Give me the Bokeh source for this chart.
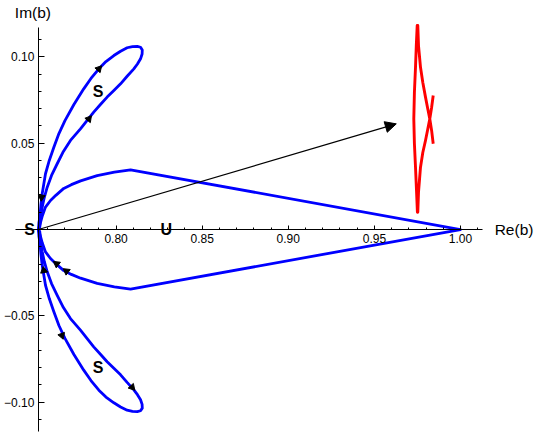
import math
from bokeh.plotting import figure
from bokeh.models import Range1d, FixedTicker, CustomJSTickFormatter, Arrow, NormalHead, ColumnDataSource
from bokeh.core.properties import value
from bokeh.embed import file_html
from bokeh.resources import INLINE

# ---------------- data ----------------
origin_x = 0.7549
origin_y = 0.0

# upper "S" loop (starts and ends at the saddle S)
loop_up_x = [0.7549, 0.7552, 0.7557, 0.7563, 0.7571, 0.7590, 0.7612, 0.7638, 0.7668, 0.7703,
             0.7755, 0.7812, 0.7854, 0.7900, 0.7941, 0.7987, 0.8026, 0.8064, 0.8095, 0.8123,
             0.8142, 0.8152, 0.8151, 0.8142, 0.8124, 0.8103, 0.8064, 0.8026, 0.7987, 0.7948,
             0.7909, 0.7870, 0.7832, 0.7793, 0.7735, 0.7694, 0.7658, 0.7625, 0.7600, 0.7583,
             0.7571, 0.7562, 0.7557, 0.7549]
loop_up_y = [0.0000, 0.0041, 0.0071, 0.0139, 0.0209, 0.0323, 0.0400, 0.0475, 0.0556, 0.0631,
             0.0724, 0.0815, 0.0875, 0.0931, 0.0973, 0.1008, 0.1033, 0.1053, 0.1060, 0.1061,
             0.1056, 0.1040, 0.1017, 0.0989, 0.0959, 0.0931, 0.0888, 0.0844, 0.0805, 0.0767,
             0.0724, 0.0680, 0.0632, 0.0583, 0.0516, 0.0452, 0.0381, 0.0313, 0.0245, 0.0185,
             0.0129, 0.0075, 0.0013, 0.0000]

# lower "S" loop
loop_dn_x = [0.7549, 0.7552, 0.7557, 0.7563, 0.7571, 0.7590, 0.7612, 0.7638, 0.7668, 0.7703,
             0.7755, 0.7812, 0.7854, 0.7900, 0.7941, 0.7987, 0.8026, 0.8064, 0.8095, 0.8123,
             0.8142, 0.8152, 0.8151, 0.8142, 0.8124, 0.8103, 0.8064, 0.8026, 0.7987, 0.7948,
             0.7909, 0.7870, 0.7832, 0.7793, 0.7735, 0.7694, 0.7658, 0.7625, 0.7600, 0.7583,
             0.7571, 0.7562, 0.7557, 0.7549]
loop_dn_y = [0.0000, -0.0041, -0.0071, -0.0139, -0.0209, -0.0323, -0.0400, -0.0475, -0.0556, -0.0631,
             -0.0724, -0.0815, -0.0875, -0.0931, -0.0971, -0.1004, -0.1028, -0.1047, -0.1054, -0.1055,
             -0.1050, -0.1035, -0.1013, -0.0986, -0.0957, -0.0929, -0.0886, -0.0842, -0.0804, -0.0766,
             -0.0723, -0.0680, -0.0632, -0.0583, -0.0516, -0.0452, -0.0381, -0.0313, -0.0245, -0.0185,
             -0.0129, -0.0075, -0.0013, 0.0000]

# closed curve towards b = 1
poly_x = [0.7549, 0.7558, 0.7572, 0.7590, 0.7619, 0.7650, 0.7696, 0.7740, 0.7794, 0.7890, 0.7990, 0.8084,
          1.0000,
          0.8084, 0.7990, 0.7890, 0.7794, 0.7740, 0.7696, 0.7650, 0.7619, 0.7590, 0.7572, 0.7558, 0.7549]
poly_y = [0.0000, 0.0030, 0.0080, 0.0130, 0.0168, 0.0198, 0.0238, 0.0260, 0.0282, 0.0312, 0.0332, 0.0346,
          0.0000,
          -0.0346, -0.0332, -0.0312, -0.0282, -0.0260, -0.0238, -0.0198, -0.0168, -0.0130, -0.0080, -0.0030, 0.0000]

# red curve near Re(b) ~ 0.975
red_x = [0.98415, 0.98322, 0.98217, 0.98095, 0.97967, 0.97811, 0.97677, 0.97561, 0.97520, 0.97497,
         0.97445, 0.97387, 0.97323, 0.97288, 0.97323, 0.97387, 0.97433, 0.97485,
         0.97520, 0.97561, 0.97677, 0.97811, 0.97967, 0.98095, 0.98217, 0.98322, 0.98415]
red_y = [0.0776, 0.0707, 0.0641, 0.0579, 0.0516, 0.0446, 0.0361, 0.0216, 0.0100, 0.0100,
         0.0226, 0.0361, 0.0498, 0.0641, 0.0794, 0.0940, 0.1066, 0.1182,
         0.1182, 0.1066, 0.0940, 0.0852, 0.0767, 0.0701, 0.0641, 0.0574, 0.0497]

# black arrow
arrow_x = [0.7549, 0.9627]
arrow_y = [0.0000, 0.0612]

# small flow arrows on curves (position, direction in degrees)
flow_x = [0.7900, 0.7842, 0.7685, 0.8093, 0.7567, 0.7580, 0.7655, 0.7712]
flow_y = [0.0931, 0.0641, -0.0614, -0.0914, 0.0187, -0.0238, -0.0199, -0.0241]
flow_dir = [48, 51, -70, -48, -95, 100, 143, 143]

# point labels
pt_text = ["S", "U", "S", "S"]
pt_x = [0.7497, 0.8291, 0.7896, 0.7896]
pt_y = [0.0000, 0.0000, 0.0801, -0.0797]

# axes
x_major = [0.80, 0.85, 0.90, 0.95, 1.00]
x_minor = [0.76, 0.77, 0.78, 0.79, 0.80, 0.81, 0.82, 0.83, 0.84, 0.85, 0.86, 0.87, 0.88, 0.89,
           0.90, 0.91, 0.92, 0.93, 0.94, 0.95, 0.96, 0.97, 0.98, 0.99, 1.00, 1.01]
y_major = [-0.10, -0.05, 0.05, 0.10]
y_minor = [-0.11, -0.10, -0.09, -0.08, -0.07, -0.06, -0.05, -0.04, -0.03, -0.02, -0.01,
           0.01, 0.02, 0.03, 0.04, 0.05, 0.06, 0.07, 0.08, 0.09, 0.10, 0.11]
x_axis_label = "Re(b)"
y_axis_label = "Im(b)"

# ---------------- figure ----------------
FONT = "Liberation Sans"
p = figure(width=534, height=433, output_backend="svg", toolbar_location=None,
           x_range=Range1d(0.73287, 1.04297), y_range=Range1d(-0.11819, 0.13268),
           min_border=0, min_border_left=0, min_border_right=0, min_border_top=0, min_border_bottom=0)
p.outline_line_color = None
p.xgrid.visible = False
p.ygrid.visible = False
p.background_fill_color = "white"

fmt = CustomJSTickFormatter(code="return (tick < 0 ? '\u2212' : '') + Math.abs(tick).toFixed(2);")
for ax, maj, mino, loc, bnds in [(p.xaxis, x_major, x_minor, 0.0, (0.7416, 1.0128)),
                                 (p.yaxis, y_major, y_minor, origin_x, (-0.117, 0.117))]:
    ax.fixed_location = loc
    ax.bounds = bnds
    ax.ticker = FixedTicker(ticks=maj, minor_ticks=mino)
    ax.formatter = fmt
    ax.axis_line_color = "black"
    ax.axis_line_width = 1
    ax.major_tick_line_color = "black"
    ax.minor_tick_line_color = "black"
    ax.major_tick_out = 0
    ax.minor_tick_out = 0
    ax.major_label_text_font = FONT
    ax.major_label_text_font_size = "12px"
    ax.major_label_text_color = "black"
    ax.major_label_standoff = 4
p.xaxis.major_tick_in = 4
p.xaxis.minor_tick_in = 2
p.yaxis.major_tick_in = 6
p.yaxis.minor_tick_in = 3

# curves
p.line(poly_x, poly_y, line_color="#0000ff", line_width=2.8, line_join="round")
p.line(loop_up_x, loop_up_y, line_color="#0000ff", line_width=2.8, line_join="round")
p.line(loop_dn_x, loop_dn_y, line_color="#0000ff", line_width=2.8, line_join="round")
p.line(red_x, red_y, line_color="#ff0000", line_width=2.9, line_join="round")

# long arrow
p.add_layout(Arrow(x_start=arrow_x[0], y_start=arrow_y[0], x_end=arrow_x[1], y_end=arrow_y[1],
                   line_color="black", line_width=1.2,
                   end=NormalHead(size=11, fill_color="black", line_color="black", line_width=1)))

# flow markers
src = ColumnDataSource(dict(x=flow_x, y=flow_y, a=[math.radians(d - 90) for d in flow_dir]))
p.scatter("x", "y", source=src, marker="triangle", size=7, angle="a",
          fill_color="black", line_color="black")

# point labels
p.text(pt_x, pt_y, text=pt_text, text_font=value(FONT), text_font_style="bold",
       text_font_size="16px", text_align="center", text_baseline="middle", text_color="black")

# axis labels
p.text([0.7517, 1.0311], [0.1259, 0.0], text=[y_axis_label, x_axis_label], text_font=value(FONT),
       text_font_size="15.5px", text_align="center", text_baseline="middle", text_color="black")

open("out.html", "w").write(file_html(p, INLINE))
